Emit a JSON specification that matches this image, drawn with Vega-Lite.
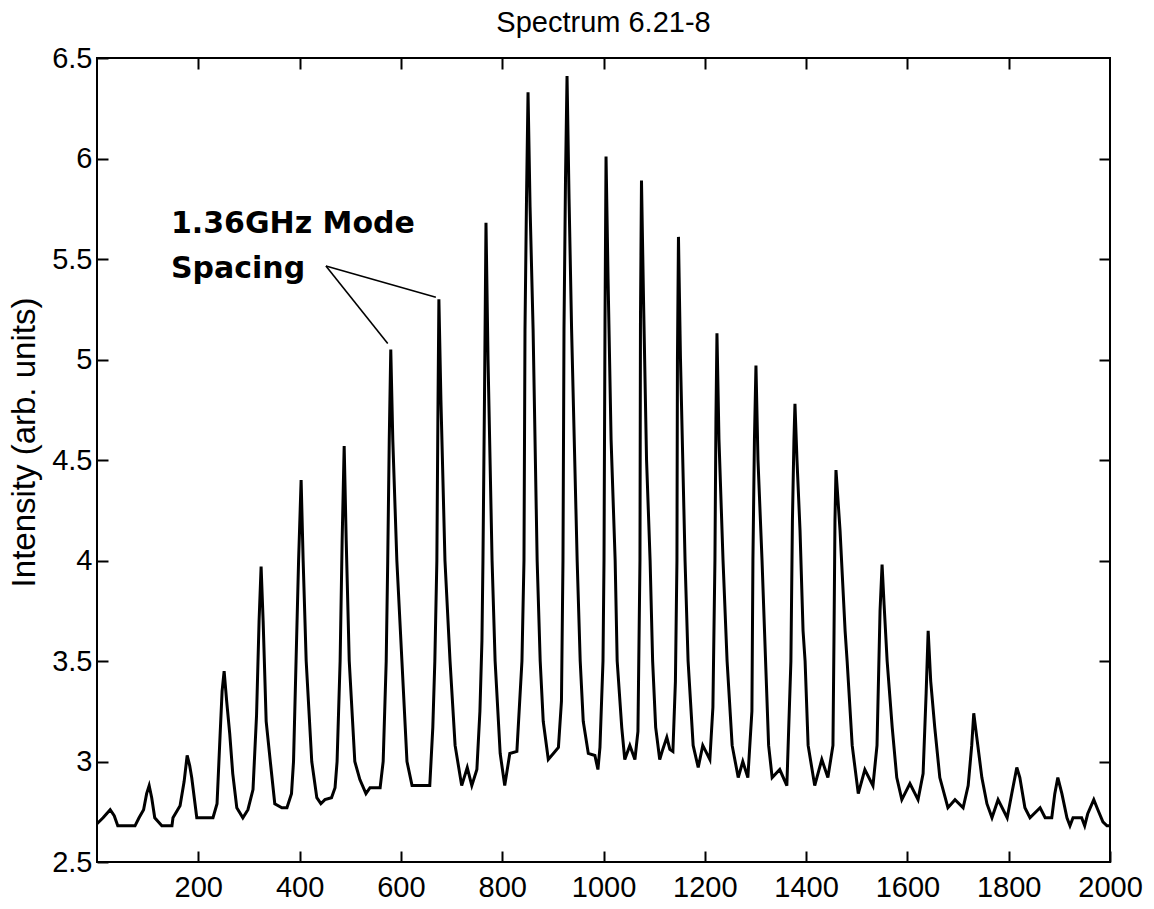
{
  "$schema": "https://vega.github.io/schema/vega-lite/v6.json",
  "width": 1013,
  "height": 804,
  "autosize": {"type": "none"},
  "padding": {"left": 97, "top": 58, "right": 44, "bottom": 47},
  "background": "white",
  "config": {"view": {"stroke": "black", "strokeWidth": 2}, "font": "Liberation Sans"},
  "title": {"text": "Spectrum 6.21-8", "fontSize": 29, "fontWeight": "normal", "font": "Liberation Sans", "color": "black", "offset": 6, "anchor": "middle"},
  "datasets": {
    "spectrum": [
      {"freq":0,"intensity":2.69},{"freq":12,"intensity":2.72},{"freq":26,"intensity":2.76},{"freq":34,"intensity":2.73},{"freq":41,"intensity":2.68},{"freq":75,"intensity":2.68},{"freq":83,"intensity":2.72},{"freq":92,"intensity":2.76},{"freq":98,"intensity":2.84},{"freq":103,"intensity":2.88},{"freq":108,"intensity":2.82},{"freq":114,"intensity":2.72},{"freq":128,"intensity":2.68},{"freq":148,"intensity":2.68},{"freq":150,"intensity":2.72},{"freq":164,"intensity":2.78},{"freq":172,"intensity":2.90},{"freq":178,"intensity":3.03},{"freq":183,"intensity":2.98},{"freq":187,"intensity":2.92},{"freq":197,"intensity":2.72},{"freq":229,"intensity":2.72},{"freq":237,"intensity":2.79},{"freq":243,"intensity":3.13},{"freq":247,"intensity":3.35},{"freq":251,"intensity":3.45},{"freq":256,"intensity":3.30},{"freq":262,"intensity":3.14},{"freq":268,"intensity":2.94},{"freq":276,"intensity":2.77},{"freq":288,"intensity":2.72},{"freq":298,"intensity":2.76},{"freq":308,"intensity":2.86},{"freq":315,"intensity":3.23},{"freq":320,"intensity":3.70},{"freq":324,"intensity":3.97},{"freq":328,"intensity":3.70},{"freq":334,"intensity":3.20},{"freq":343,"intensity":2.98},{"freq":351,"intensity":2.79},{"freq":365,"intensity":2.77},{"freq":375,"intensity":2.77},{"freq":384,"intensity":2.84},{"freq":388,"intensity":3.00},{"freq":393,"intensity":3.50},{"freq":398,"intensity":4.00},{"freq":403,"intensity":4.40},{"freq":407,"intensity":4.00},{"freq":413,"intensity":3.50},{"freq":424,"intensity":3.00},{"freq":434,"intensity":2.82},{"freq":442,"intensity":2.79},{"freq":450,"intensity":2.81},{"freq":463,"intensity":2.82},{"freq":470,"intensity":2.87},{"freq":474,"intensity":3.00},{"freq":480,"intensity":3.50},{"freq":484,"intensity":4.10},{"freq":488,"intensity":4.57},{"freq":492,"intensity":4.10},{"freq":498,"intensity":3.50},{"freq":509,"intensity":3.00},{"freq":519,"intensity":2.91},{"freq":531,"intensity":2.84},{"freq":539,"intensity":2.87},{"freq":559,"intensity":2.87},{"freq":565,"intensity":3.00},{"freq":571,"intensity":3.50},{"freq":574,"intensity":4.00},{"freq":577,"intensity":4.60},{"freq":580,"intensity":5.05},{"freq":584,"intensity":4.60},{"freq":592,"intensity":4.00},{"freq":602,"intensity":3.50},{"freq":612,"intensity":3.00},{"freq":622,"intensity":2.88},{"freq":657,"intensity":2.88},{"freq":663,"intensity":3.17},{"freq":667,"intensity":3.50},{"freq":671,"intensity":4.00},{"freq":673,"intensity":4.70},{"freq":675,"intensity":5.30},{"freq":679,"intensity":4.80},{"freq":687,"intensity":4.00},{"freq":697,"intensity":3.50},{"freq":707,"intensity":3.08},{"freq":720,"intensity":2.88},{"freq":731,"intensity":2.97},{"freq":740,"intensity":2.88},{"freq":750,"intensity":2.96},{"freq":756,"intensity":3.25},{"freq":760,"intensity":3.60},{"freq":762,"intensity":4.00},{"freq":765,"intensity":4.80},{"freq":768,"intensity":5.68},{"freq":772,"intensity":5.00},{"freq":780,"intensity":4.00},{"freq":786,"intensity":3.50},{"freq":796,"intensity":3.04},{"freq":805,"intensity":2.88},{"freq":815,"intensity":3.04},{"freq":829,"intensity":3.05},{"freq":839,"intensity":3.50},{"freq":843,"intensity":4.00},{"freq":845,"intensity":5.15},{"freq":848,"intensity":5.80},{"freq":851,"intensity":6.33},{"freq":855,"intensity":5.76},{"freq":861,"intensity":5.15},{"freq":869,"intensity":4.00},{"freq":875,"intensity":3.50},{"freq":881,"intensity":3.20},{"freq":891,"intensity":3.01},{"freq":901,"intensity":3.04},{"freq":911,"intensity":3.07},{"freq":917,"intensity":3.30},{"freq":920,"intensity":4.00},{"freq":922,"intensity":5.15},{"freq":925,"intensity":5.90},{"freq":928,"intensity":6.41},{"freq":932,"intensity":5.80},{"freq":937,"intensity":5.15},{"freq":948,"intensity":4.00},{"freq":954,"intensity":3.50},{"freq":960,"intensity":3.20},{"freq":970,"intensity":3.04},{"freq":983,"intensity":3.03},{"freq":989,"intensity":2.96},{"freq":993,"intensity":3.07},{"freq":999,"intensity":3.50},{"freq":1001,"intensity":4.00},{"freq":1003,"intensity":5.20},{"freq":1005,"intensity":6.01},{"freq":1009,"intensity":5.40},{"freq":1015,"intensity":4.60},{"freq":1023,"intensity":4.00},{"freq":1027,"intensity":3.50},{"freq":1036,"intensity":3.17},{"freq":1042,"intensity":3.01},{"freq":1052,"intensity":3.08},{"freq":1062,"intensity":3.01},{"freq":1068,"intensity":3.15},{"freq":1072,"intensity":4.00},{"freq":1073,"intensity":5.20},{"freq":1075,"intensity":5.89},{"freq":1079,"intensity":5.30},{"freq":1085,"intensity":4.50},{"freq":1092,"intensity":4.00},{"freq":1097,"intensity":3.50},{"freq":1103,"intensity":3.17},{"freq":1111,"intensity":3.01},{"freq":1117,"intensity":3.06},{"freq":1125,"intensity":3.12},{"freq":1131,"intensity":3.06},{"freq":1137,"intensity":3.05},{"freq":1142,"intensity":3.40},{"freq":1145,"intensity":4.00},{"freq":1146,"intensity":5.00},{"freq":1148,"intensity":5.61},{"freq":1152,"intensity":5.00},{"freq":1161,"intensity":4.00},{"freq":1167,"intensity":3.50},{"freq":1177,"intensity":3.08},{"freq":1187,"intensity":2.97},{"freq":1196,"intensity":3.08},{"freq":1210,"intensity":3.01},{"freq":1216,"intensity":3.27},{"freq":1220,"intensity":4.00},{"freq":1222,"intensity":4.70},{"freq":1224,"intensity":5.13},{"freq":1228,"intensity":4.60},{"freq":1236,"intensity":4.00},{"freq":1244,"intensity":3.50},{"freq":1254,"intensity":3.08},{"freq":1266,"intensity":2.92},{"freq":1275,"intensity":3.00},{"freq":1285,"intensity":2.92},{"freq":1293,"intensity":3.25},{"freq":1295,"intensity":4.00},{"freq":1298,"intensity":4.60},{"freq":1301,"intensity":4.97},{"freq":1305,"intensity":4.50},{"freq":1313,"intensity":4.00},{"freq":1320,"intensity":3.50},{"freq":1326,"intensity":3.08},{"freq":1333,"intensity":2.92},{"freq":1348,"intensity":2.96},{"freq":1362,"intensity":2.88},{"freq":1370,"intensity":3.50},{"freq":1373,"intensity":4.20},{"freq":1376,"intensity":4.60},{"freq":1378,"intensity":4.78},{"freq":1382,"intensity":4.50},{"freq":1388,"intensity":4.15},{"freq":1394,"intensity":3.65},{"freq":1398,"intensity":3.50},{"freq":1404,"intensity":3.08},{"freq":1417,"intensity":2.88},{"freq":1431,"intensity":3.01},{"freq":1443,"intensity":2.92},{"freq":1453,"intensity":3.08},{"freq":1455,"intensity":3.60},{"freq":1457,"intensity":4.20},{"freq":1459,"intensity":4.45},{"freq":1463,"intensity":4.30},{"freq":1467,"intensity":4.15},{"freq":1477,"intensity":3.65},{"freq":1481,"intensity":3.50},{"freq":1491,"intensity":3.08},{"freq":1503,"intensity":2.84},{"freq":1516,"intensity":2.96},{"freq":1532,"intensity":2.88},{"freq":1540,"intensity":3.08},{"freq":1546,"intensity":3.75},{"freq":1550,"intensity":3.98},{"freq":1554,"intensity":3.78},{"freq":1560,"intensity":3.50},{"freq":1570,"intensity":3.17},{"freq":1579,"intensity":2.92},{"freq":1589,"intensity":2.81},{"freq":1605,"intensity":2.89},{"freq":1621,"intensity":2.81},{"freq":1631,"intensity":2.94},{"freq":1637,"intensity":3.34},{"freq":1641,"intensity":3.65},{"freq":1646,"intensity":3.40},{"freq":1654,"intensity":3.17},{"freq":1664,"intensity":2.92},{"freq":1680,"intensity":2.77},{"freq":1694,"intensity":2.81},{"freq":1710,"intensity":2.77},{"freq":1720,"intensity":2.88},{"freq":1727,"intensity":3.08},{"freq":1731,"intensity":3.24},{"freq":1737,"intensity":3.12},{"freq":1747,"intensity":2.92},{"freq":1757,"intensity":2.79},{"freq":1767,"intensity":2.72},{"freq":1779,"intensity":2.81},{"freq":1797,"intensity":2.72},{"freq":1806,"intensity":2.84},{"freq":1816,"intensity":2.97},{"freq":1822,"intensity":2.92},{"freq":1832,"intensity":2.77},{"freq":1842,"intensity":2.72},{"freq":1862,"intensity":2.77},{"freq":1872,"intensity":2.72},{"freq":1885,"intensity":2.72},{"freq":1891,"intensity":2.84},{"freq":1897,"intensity":2.92},{"freq":1905,"intensity":2.84},{"freq":1915,"intensity":2.72},{"freq":1921,"intensity":2.68},{"freq":1927,"intensity":2.72},{"freq":1944,"intensity":2.72},{"freq":1950,"intensity":2.68},{"freq":1956,"intensity":2.74},{"freq":1968,"intensity":2.81},{"freq":1976,"intensity":2.76},{"freq":1986,"intensity":2.70},{"freq":1994,"intensity":2.68},{"freq":2000,"intensity":2.68}
    ],
    "notes": [
      {"label": "1.36GHz Mode", "freq": 146, "intensity": 5.63},
      {"label": "Spacing", "freq": 146, "intensity": 5.405}
    ],
    "pointers": [
      {"fromFreq": 452, "fromIntensity": 5.465, "toFreq": 574, "toIntensity": 5.08},
      {"fromFreq": 452, "fromIntensity": 5.465, "toFreq": 669, "toIntensity": 5.31}
    ]
  },
  "layer": [
    {
      "data": {"name": "spectrum"},
      "mark": {"type": "line", "color": "black", "strokeWidth": 3, "clip": true},
      "encoding": {
        "x": {"field": "freq", "type": "quantitative", "scale": {"domain": [0, 2000], "nice": false, "zero": false},
              "axis": {"orient": "bottom", "values": [200, 400, 600, 800, 1000, 1200, 1400, 1600, 1800, 2000], "format": "d", "tickSize": -11, "tickColor": "black", "tickWidth": 2, "domain": false, "grid": false, "labelFontSize": 29, "labelColor": "black", "labelPadding": 22, "labelFlush": false, "labelOverlap": false, "title": null}},
        "y": {"field": "intensity", "type": "quantitative", "scale": {"domain": [2.5, 6.5], "nice": false, "zero": false},
              "axis": {"orient": "left", "values": [2.5, 3, 3.5, 4, 4.5, 5, 5.5, 6, 6.5], "format": "~g", "tickSize": -11, "tickColor": "black", "tickWidth": 2, "domain": false, "grid": false, "labelFontSize": 29, "labelColor": "black", "labelPadding": 16, "labelFlush": false, "labelOverlap": false, "title": "Intensity (arb. units)", "titleFontSize": 33, "titleFontWeight": "normal", "titleColor": "black", "titlePadding": 10, "titleY": 384}}
      }
    },
    {
      "data": {"name": "spectrum"},
      "mark": {"type": "line", "opacity": 0},
      "encoding": {
        "x": {"field": "freq", "type": "quantitative", "axis": {"orient": "top", "values": [200, 400, 600, 800, 1000, 1200, 1400, 1600, 1800], "tickSize": -11, "tickColor": "black", "tickWidth": 2, "domain": false, "grid": false, "labels": false, "title": null}},
        "y": {"field": "intensity", "type": "quantitative", "axis": {"orient": "right", "values": [3, 3.5, 4, 4.5, 5, 5.5, 6], "tickSize": -11, "tickColor": "black", "tickWidth": 2, "domain": false, "grid": false, "labels": false, "title": null}}
      }
    },
    {
      "data": {"name": "pointers"},
      "mark": {"type": "rule", "color": "black", "strokeWidth": 1.6},
      "encoding": {
        "x": {"field": "fromFreq", "type": "quantitative", "axis": null},
        "y": {"field": "fromIntensity", "type": "quantitative", "axis": null},
        "x2": {"field": "toFreq"},
        "y2": {"field": "toIntensity"}
      }
    },
    {
      "data": {"name": "notes"},
      "mark": {"type": "text", "align": "left", "baseline": "alphabetic", "font": "DejaVu Sans", "fontWeight": "bold", "fontSize": 30, "color": "black"},
      "encoding": {
        "x": {"field": "freq", "type": "quantitative", "axis": null},
        "y": {"field": "intensity", "type": "quantitative", "axis": null},
        "text": {"field": "label"}
      }
    }
  ],
  "resolve": {"axis": {"x": "independent", "y": "independent"}}
}
